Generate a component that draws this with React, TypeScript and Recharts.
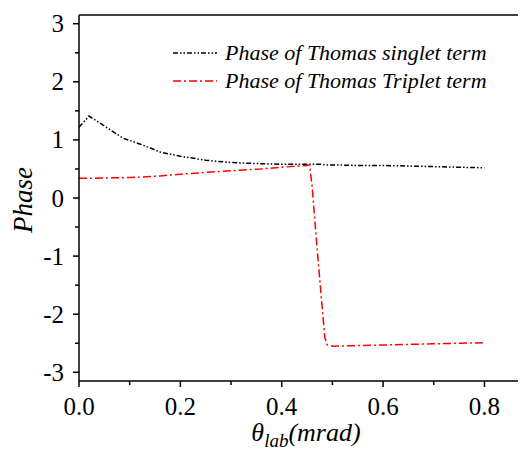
import React from "react";
import { LineChart, Line, XAxis, YAxis, ReferenceLine, Legend, Label } from "recharts";

const thetaLab = [0, 0.02, 0.05, 0.087, 0.1, 0.12, 0.141, 0.16, 0.2, 0.25, 0.3, 0.36, 0.4, 0.45, 0.455, 0.46, 0.465, 0.47, 0.475, 0.48, 0.485, 0.49, 0.5, 0.55, 0.6, 0.65, 0.7, 0.75, 0.8];
const singlet = [1.22, 1.41, 1.24, 1.03, 0.99, 0.93, 0.86, 0.79, 0.72, 0.65, 0.61, 0.59, 0.58, 0.58, 0.58, 0.58, 0.58, 0.58, 0.58, 0.58, 0.57, 0.57, 0.57, 0.56, 0.56, 0.55, 0.54, 0.53, 0.52];
const triplet = [0.34, 0.34, 0.345, 0.35, 0.355, 0.36, 0.37, 0.38, 0.41, 0.44, 0.47, 0.5, 0.53, 0.56, 0.57, 0.2, -0.35, -0.89, -1.4, -1.9, -2.4, -2.53, -2.55, -2.54, -2.53, -2.52, -2.51, -2.5, -2.49];
const seriesNames = ["Phase of Thomas singlet term", "Phase of Thomas Triplet term"];
const xTicks = [0, 0.1, 0.2, 0.3, 0.4, 0.5, 0.6, 0.7, 0.8];
const yTicks = [-3, -2.5, -2, -1.5, -1, -0.5, 0, 0.5, 1, 1.5, 2, 2.5, 3];

const data = thetaLab.map((t, i) => ({ t, singlet: singlet[i], triplet: triplet[i] }));

const FONT = '"Liberation Serif", "Times New Roman", Tinos';
const singletDash = "5 2 1.5 2 1.5 2";
const tripletDash = "8 3 2 3";

const XTick = (props: any) => {
  const { x, y, payload } = props;
  const v = payload.value;
  const major = Math.round(v * 10) % 2 === 0;
  return (
    <g>
      <line x1={x} y1={y} x2={x} y2={y + (major ? 6 : 4)} stroke="#000" strokeWidth={1.5} />
      {major && (
        <text x={x} y={y + 34} textAnchor="middle" fontFamily={FONT} style={{ fontFamily: FONT, fontSize: 25 }} fill="#000">
          {v.toFixed(1)}
        </text>
      )}
    </g>
  );
};

const YTick = (props: any) => {
  const { x, y, payload } = props;
  const v = payload.value;
  const major = Number.isInteger(v);
  return (
    <g>
      <line x1={x} y1={y} x2={x - (major ? 6 : 4)} y2={y} stroke="#000" strokeWidth={1.5} />
      {major && (
        <text x={x - 15} y={y + 8.5} textAnchor="end" fontFamily={FONT} style={{ fontFamily: FONT, fontSize: 25 }} fill="#000">
          {String(v)}
        </text>
      )}
    </g>
  );
};

const LegendContent = () => (
  <div style={{ fontFamily: FONT, fontStyle: "italic", fontSize: 22, lineHeight: "28px", color: "#000" }}>
    {[
      { name: seriesNames[0], color: "#000", dash: singletDash },
      { name: seriesNames[1], color: "#ff0000", dash: tripletDash },
    ].map((it) => (
      <div key={it.name} style={{ display: "flex", alignItems: "center", height: 28, whiteSpace: "nowrap" }}>
        <svg width={44} height={28} style={{ display: "block" }}>
          <line x1={0} y1={14} x2={44} y2={14} stroke={it.color} strokeWidth={1.5} strokeDasharray={it.dash} />
        </svg>
        <span style={{ marginLeft: 8, fontFamily: FONT }}>{it.name}</span>
      </div>
    ))}
  </div>
);

export default function App() {
  return (
    <div style={{ fontFamily: FONT }}>
      <LineChart width={518} height={442} data={data} margin={{ top: 7, right: 1, bottom: 0, left: 0 }}>
        <XAxis
          dataKey="t"
          type="number"
          domain={[0, 0.88]}
          ticks={xTicks}
          allowDataOverflow
          interval={0}
          tickSize={0}
          tickMargin={0}
          height={69}
          stroke="#000"
          strokeWidth={1.5}
          tick={<XTick />}
        >
          <Label
            content={() => (
              <text x={298} y={433} textAnchor="middle" fontFamily={FONT} style={{ fontFamily: FONT, fontStyle: "italic", fontSize: 26 }} fill="#000">
                θ<tspan style={{ fontSize: 19 }} dy={6}>lab</tspan>
                <tspan dy={-6}>(mrad)</tspan>
              </text>
            )}
          />
        </XAxis>
        <YAxis
          type="number"
          domain={[-3.15, 3.15]}
          ticks={yTicks}
          allowDataOverflow
          interval={0}
          width={71}
          tickSize={0}
          tickMargin={0}
          stroke="#000"
          strokeWidth={1.5}
          tick={<YTick />}
        >
          <Label
            content={() => (
              <text
                x={18}
                y={192}
                transform="rotate(-90 18 192)"
                textAnchor="middle"
                dominantBaseline="middle"
                fontFamily={FONT}
                style={{ fontFamily: FONT, fontStyle: "italic", fontSize: 27 }}
                fill="#000"
              >
                Phase
              </text>
            )}
          />
        </YAxis>
        <ReferenceLine y={3.15} stroke="#000" strokeWidth={1.5} />
        <Legend
          layout="horizontal"
          verticalAlign="middle"
          align="center"
          wrapperStyle={{ position: "absolute", top: 31, left: 165, width: 352, height: 56 }}
          content={<LegendContent />}
        />
        <Line
          type="linear"
          dataKey="singlet"
          name={seriesNames[0]}
          stroke="#000"
          strokeWidth={1.5}
          strokeDasharray={singletDash}
          dot={false}
          isAnimationActive={false}
        />
        <Line
          type="linear"
          dataKey="triplet"
          name={seriesNames[1]}
          stroke="#ff0000"
          strokeWidth={1.5}
          strokeDasharray={tripletDash}
          dot={false}
          isAnimationActive={false}
        />
      </LineChart>
    </div>
  );
}
